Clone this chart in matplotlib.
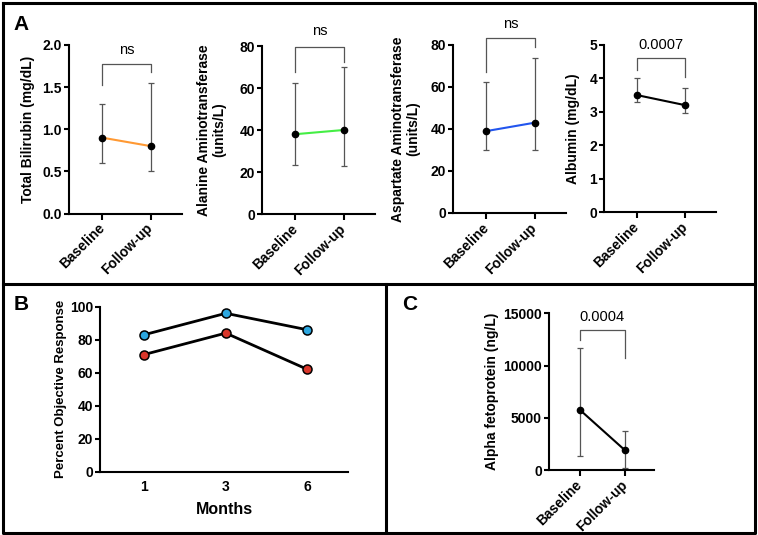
import matplotlib
matplotlib.use("Agg")
import matplotlib.pyplot as plt
from matplotlib.lines import Line2D
import numpy as np

plt.rcParams['font.family'] = ['Liberation Sans', 'DejaVu Sans']

W, H = 758, 535
DPI = 100

# ---------------- data ----------------
groups = ["Baseline", "Follow-up"]

bili_mean = [0.9, 0.8]
bili_low = [0.6, 0.5]
bili_high = [1.3, 1.55]

alt_mean = [38, 40]
alt_low = [23.5, 23]
alt_high = [62.5, 70]

ast_mean = [39, 43]
ast_low = [30, 30]
ast_high = [62.5, 74]

alb_mean = [3.5, 3.2]
alb_low = [3.3, 2.95]
alb_high = [4.0, 3.7]

afp_mean = [5750, 1900]
afp_low = [1300, 200]
afp_high = [11650, 3700]

months = ["1", "3", "6"]
resp_blue = [83, 96, 86]
resp_red = [71, 84, 62]

# ---------------- figure ----------------
fig = plt.figure(figsize=(W / DPI, H / DPI), dpi=DPI)
fig.patch.set_facecolor("white")


def add_ax(l, t, r, b):
    return fig.add_axes([l / W, 1 - b / H, (r - l) / W, (b - t) / H])


def style(ax, xticks=True):
    for s in ["top", "right"]:
        ax.spines[s].set_visible(False)
    for s in ["left", "bottom"]:
        ax.spines[s].set_linewidth(1.5)
        ax.spines[s].set_color("black")
    ax.tick_params(axis="y", width=1.5, length=3.5, labelsize=10, pad=1.5)
    if xticks:
        ax.tick_params(axis="x", width=1.5, length=4, labelsize=10, pad=2)
    else:
        ax.tick_params(axis="x", length=0, labelsize=10, pad=6)
    for lab in ax.get_xticklabels() + ax.get_yticklabels():
        lab.set_fontweight("bold")


def paired(ax, l, t, r, b, mean, low, high, color, ylim, yticks, ytl, ylabel,
           lab_dx, bracket, txt, txt_y):
    x = np.arange(len(groups))
    mean = np.array(mean)
    yerr = [mean - np.array(low), np.array(high) - mean]
    ax.errorbar(x, mean, yerr=yerr, fmt="none", ecolor="#555555",
                elinewidth=0.9, capsize=2.5, capthick=0.9, zorder=2)
    ax.plot(x, mean, color=color, lw=1.5, zorder=3)
    ax.plot(x, mean, "o", color="black", ms=4.5, zorder=4)
    ax.set_xlim(-0.69, 1.65)
    ax.set_ylim(*ylim)
    ax.set_yticks(yticks)
    ax.set_yticklabels(ytl)
    ax.set_xticks(x)
    ax.set_xticklabels(groups, rotation=45, ha="right", va="center",
                       rotation_mode="anchor")
    style(ax)
    for lab in ax.get_xticklabels():
        lab.set_y(lab.get_position()[1])
    ax.tick_params(axis="x", pad=5)
    # bracket
    y_top, y_l, y_r = bracket
    ax.plot([0, 0, 1, 1], [y_l, y_top, y_top, y_r], color="#555555", lw=0.9,
            clip_on=False, zorder=2)
    ax.text(0.5, txt_y, txt, ha="center", va="center", fontsize=10.5,
            clip_on=False)
    ax.set_ylabel(ylabel, fontsize=10, fontweight="bold", va="center",
                  linespacing=1.1)
    wpx = r - l
    ax.yaxis.set_label_coords(-lab_dx / wpx, 0.5)


# Panel A
ax1 = add_ax(69, 45, 182, 213.5)
paired(ax1, 69, 45, 182, 213.5, bili_mean, bili_low, bili_high, "#FF9933",
       (0, 2), [0, 0.5, 1.0, 1.5, 2.0], ["0.0", "0.5", "1.0", "1.5", "2.0"],
       "Total Bilirubin (mg/dL)", 41, (1.78, 1.53, 1.68), "ns", 1.94)

ax2 = add_ax(262, 46, 375, 214)
paired(ax2, 262, 46, 375, 214, alt_mean, alt_low, alt_high, "#44EE44",
       (0, 80), [0, 20, 40, 60, 80], ["0", "20", "40", "60", "80"],
       "Alanine Aminotransferase\n(units/L)", 50, (79.4, 67.8, 72.5), "ns", 87)

ax3 = add_ax(453, 45, 566, 213)
paired(ax3, 453, 45, 566, 213, ast_mean, ast_low, ast_high, "#2255EE",
       (0, 80), [0, 20, 40, 60, 80], ["0", "20", "40", "60", "80"],
       "Aspartate Aminotransferase\n(units/L)", 47, (83.2, 67.3, 78.9), "ns", 90)

ax4 = add_ax(604, 45, 716, 212)
paired(ax4, 604, 45, 716, 212, alb_mean, alb_low, alb_high, "black",
       (0, 5), [0, 1, 2, 3, 4, 5], ["0", "1", "2", "3", "4", "5"],
       "Albumin (mg/dL)", 31, (4.6, 4.25, 4.04), "0.0007", 5.0)

# Panel C
axC = add_ax(549, 313.3, 654, 470)
paired(axC, 549, 313.3, 654, 470, afp_mean, afp_low, afp_high, "black",
       (0, 15000), [0, 5000, 10000, 15000], ["0", "5000", "10000", "15000"],
       "Alpha fetoprotein (ng/L)", 57, (13400, 12450, 10690), "0.0004", 14620)

# Panel B
axB = add_ax(100, 306.7, 348.3, 471.7)
xb = np.arange(len(months))
axB.plot(xb, resp_blue, color="black", lw=2, zorder=2)
axB.plot(xb, resp_red, color="black", lw=2, zorder=2)
axB.plot(xb, resp_blue, "o", ms=6.5, mfc="#2CA7E0", mec="black", mew=1.1,
         zorder=3)
axB.plot(xb, resp_red, "o", ms=6.5, mfc="#D9372B", mec="black", mew=1.1,
         zorder=3)
axB.set_xlim(-0.54, 2.5)
axB.set_ylim(0, 100)
axB.set_yticks([0, 20, 40, 60, 80, 100])
axB.set_xticks(xb)
axB.set_xticklabels(months)
style(axB, xticks=False)
for lab in axB.get_xticklabels():
    lab.set_fontweight("bold")
axB.set_xlabel("Months", fontsize=11.5, fontweight="bold", labelpad=6)
axB.set_ylabel("Percent Objective Response", fontsize=9.5, fontweight="bold",
               va="center")
axB.yaxis.set_label_coords(-39 / 248.3, 0.5)

# Panel letters
for letter, (px, py) in {"A": (21, 25), "B": (21, 305), "C": (410, 305)}.items():
    fig.text(px / W, 1 - py / H, letter, fontsize=15, fontweight="bold",
             ha="center", va="center")

# Borders
def fline(xs, ys, lw=2.2):
    fig.add_artist(Line2D([x / W for x in xs], [1 - y / H for y in ys],
                          color="black", lw=lw, solid_capstyle="projecting"))

fline([2.5, 754.5, 754.5, 2.5, 2.5], [2.5, 2.5, 532.5, 532.5, 2.5])
fline([2.5, 754.5], [283.5, 283.5])
fline([385.5, 385.5], [283.5, 532.5])

fig.savefig("out.png", dpi=DPI, facecolor="white")
